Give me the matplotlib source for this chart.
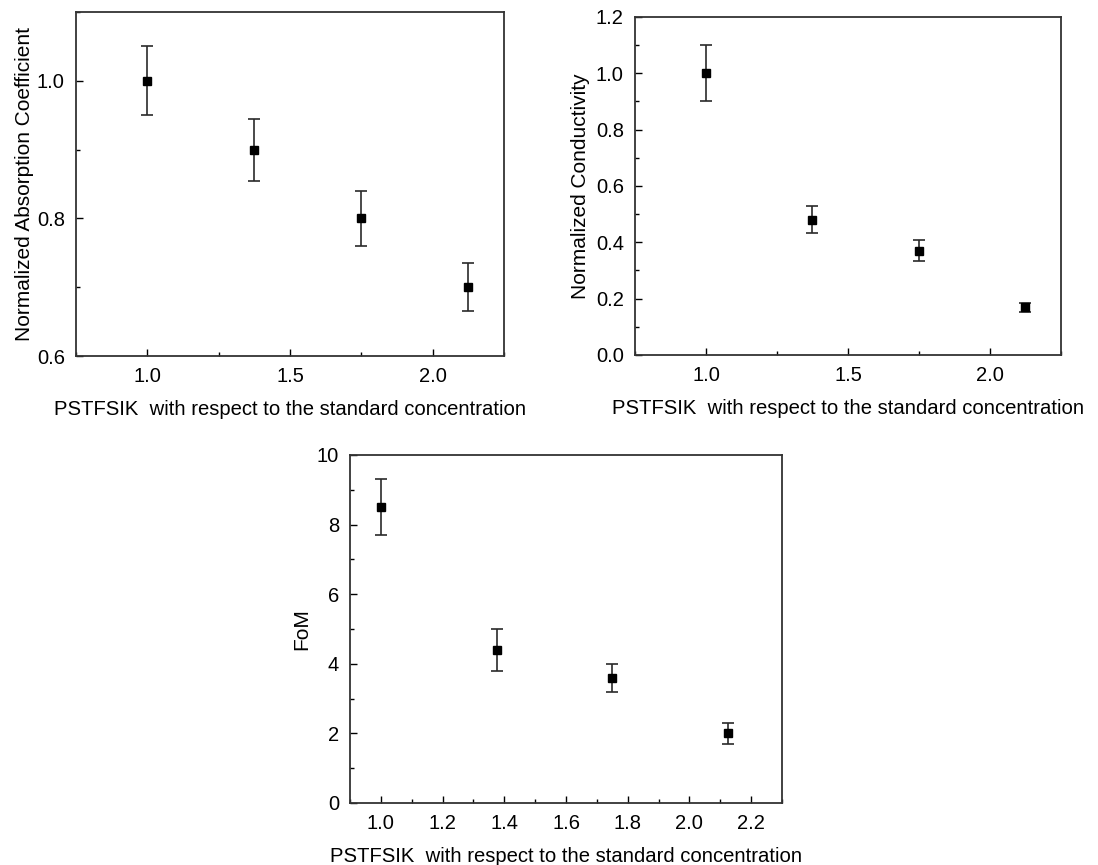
import numpy as np
import matplotlib
matplotlib.use("Agg")
import matplotlib.pyplot as plt
from matplotlib.ticker import MultipleLocator

plt.rcParams['font.family'] = ['Liberation Sans', 'DejaVu Sans']
plt.rcParams['font.size'] = 15

conc = [1.0, 1.375, 1.75, 2.125]

absorption = [1.0, 0.9, 0.8, 0.7]
absorption_err = [0.05, 0.045, 0.04, 0.035]

conductivity = [1.0, 0.48, 0.37, 0.17]
conductivity_err = [0.1, 0.048, 0.037, 0.016]

fom = [8.5, 4.4, 3.6, 2.0]
fom_err = [0.8, 0.6, 0.4, 0.3]

xlabel = "PSTFSIK  with respect to the standard concentration"

fig = plt.figure(figsize=(10.98, 8.65), dpi=100)
ax1 = fig.add_axes([0.0692, 0.5884, 0.3898, 0.3977])
ax2 = fig.add_axes([0.5783, 0.5896, 0.3880, 0.3908])
ax3 = fig.add_axes([0.3188, 0.0717, 0.3934, 0.4023])

panels = [
    (ax1, absorption, absorption_err, "Normalized Absorption Coefficient"),
    (ax2, conductivity, conductivity_err, "Normalized Conductivity"),
    (ax3, fom, fom_err, "FoM"),
]

for ax, vals, errs, ylab in panels:
    ax.errorbar(conc, vals, yerr=errs, fmt='s', color='black', ms=6,
                ecolor='#2a2a2a', elinewidth=1.2, capsize=4, capthick=1.2)
    ax.set_ylabel(ylab, fontsize=15)
    ax.set_xlabel(xlabel, fontsize=14.6, labelpad=10)
    for s in ax.spines.values():
        s.set_linewidth(1.3)
        s.set_color('#333333')
    ax.tick_params(which='both', direction='in', top=False, right=False,
                   labelsize=14.5, pad=8)
    ax.tick_params(which='major', length=5, width=1)
    ax.tick_params(which='minor', length=3, width=1)

ax1.yaxis.labelpad = 2

ax1.set_xlim(0.75, 2.25)
ax1.set_ylim(0.6, 1.1)
ax1.xaxis.set_major_locator(MultipleLocator(0.5))
ax1.xaxis.set_minor_locator(MultipleLocator(0.25))
ax1.yaxis.set_minor_locator(MultipleLocator(0.1))
ax1.set_yticks([0.6, 0.8, 1.0])
ax1.set_yticklabels(["0.6", "0.8", "1.0"])

ax2.set_xlim(0.75, 2.25)
ax2.set_ylim(0, 1.2)
ax2.xaxis.set_major_locator(MultipleLocator(0.5))
ax2.xaxis.set_minor_locator(MultipleLocator(0.25))
ax2.yaxis.set_major_locator(MultipleLocator(0.2))
ax2.yaxis.set_minor_locator(MultipleLocator(0.1))
ax2.yaxis.set_major_formatter(plt.FormatStrFormatter('%.1f'))

ax3.set_xlim(0.9, 2.3)
ax3.set_ylim(0, 10)
ax3.xaxis.set_major_locator(MultipleLocator(0.2))
ax3.xaxis.set_minor_locator(MultipleLocator(0.1))
ax3.yaxis.set_major_locator(MultipleLocator(2))
ax3.yaxis.set_minor_locator(MultipleLocator(1))
ax3.xaxis.set_major_formatter(plt.FormatStrFormatter('%.1f'))

fig.savefig('out.png', dpi=100)
